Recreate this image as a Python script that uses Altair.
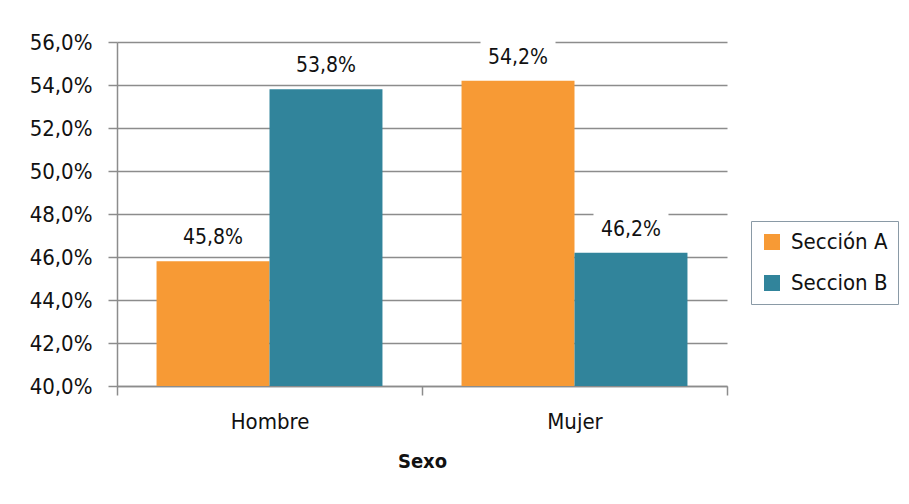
import altair as alt
import pandas as pd

sexo = ["Hombre", "Hombre", "Mujer", "Mujer"]
seccion = ["Sección A", "Seccion B", "Sección A", "Seccion B"]
valores = [0.458, 0.538, 0.542, 0.462]

series_order = ["Sección A", "Seccion B"]
colores = ["#F79A35", "#31849B"]

df = pd.DataFrame({"Sexo": sexo, "Seccion": seccion, "Valor": valores})

FONT = "DejaVu Sans Condensed"

x_enc = alt.X("Sexo:N", title="Sexo",
              scale=alt.Scale(paddingInner=0, paddingOuter=0),
              axis=alt.Axis(labelAngle=0, grid=False, tickBand="extent",
                            tickSize=9, labelPadding=16, titlePadding=19,
                            domainColor="#8c8c8c", tickColor="#8c8c8c",
                            domainWidth=1.5, tickWidth=1.5))
xo_enc = alt.XOffset("Seccion:N", sort=series_order,
                     scale=alt.Scale(paddingInner=0, paddingOuter=0.35))
y_enc = alt.Y("Valor:Q", title=None,
              scale=alt.Scale(domain=[0.40, 0.56], nice=False, zero=False),
              axis=alt.Axis(values=[0.40, 0.42, 0.44, 0.46, 0.48, 0.50, 0.52, 0.54, 0.56],
                            labelExpr="replace(format(datum.value, '.1%'), '.', ',')",
                            tickSize=9, labelPadding=16, grid=True,
                            gridColor="#8c8c8c", gridWidth=1.5,
                            domainColor="#8c8c8c", tickColor="#8c8c8c",
                            domainWidth=1.5, tickWidth=1.5))

bars = alt.Chart(df).mark_bar(clip=True).encode(
    x=x_enc,
    xOffset=xo_enc,
    y=y_enc,
    color=alt.Color("Seccion:N", sort=series_order,
                    scale=alt.Scale(domain=series_order, range=colores),
                    legend=alt.Legend(title=None, orient="none", legendX=634, legendY=179,
                                      symbolType="square", symbolSize=256,
                                      symbolStrokeWidth=0,
                                      labelFontSize=22, labelFont=FONT,
                                      labelColor="#111111", labelOffset=8,
                                      rowPadding=19, padding=10,
                                      strokeColor="#8a9aa6", fillColor="white")),
)

boxes = alt.Chart(df).mark_point(shape="M-1,-0.4667H1V0.4667H-1Z", filled=True,
                                 color="white", opacity=1, size=5625,
                                 yOffset=-23.5, strokeWidth=0).encode(
    x=alt.X("Sexo:N"),
    xOffset=xo_enc,
    y=alt.Y("Valor:Q"),
)

labels = alt.Chart(df).transform_calculate(
    etiqueta="replace(format(datum.Valor, '.1%'), '.', ',')"
).mark_text(font=FONT, fontSize=21, color="#111111", baseline="middle",
            dy=-23).encode(
    x=alt.X("Sexo:N"),
    xOffset=xo_enc,
    y=alt.Y("Valor:Q"),
    text="etiqueta:N",
)

chart = alt.layer(bars, boxes, labels).properties(
    width=610, height=344,
    autosize=alt.AutoSizeParams(type="none"),
    padding={"left": 109, "top": 34, "right": 174, "bottom": 110},
    background="white",
).configure_view(stroke=None).configure_axis(
    labelFont=FONT, labelFontSize=22, labelColor="#111111",
    titleFont=FONT, titleFontSize=20, titleFontWeight="bold", titleColor="#111111",
)

chart.save("out.html", embed_options={"renderer": "svg", "actions": False})
